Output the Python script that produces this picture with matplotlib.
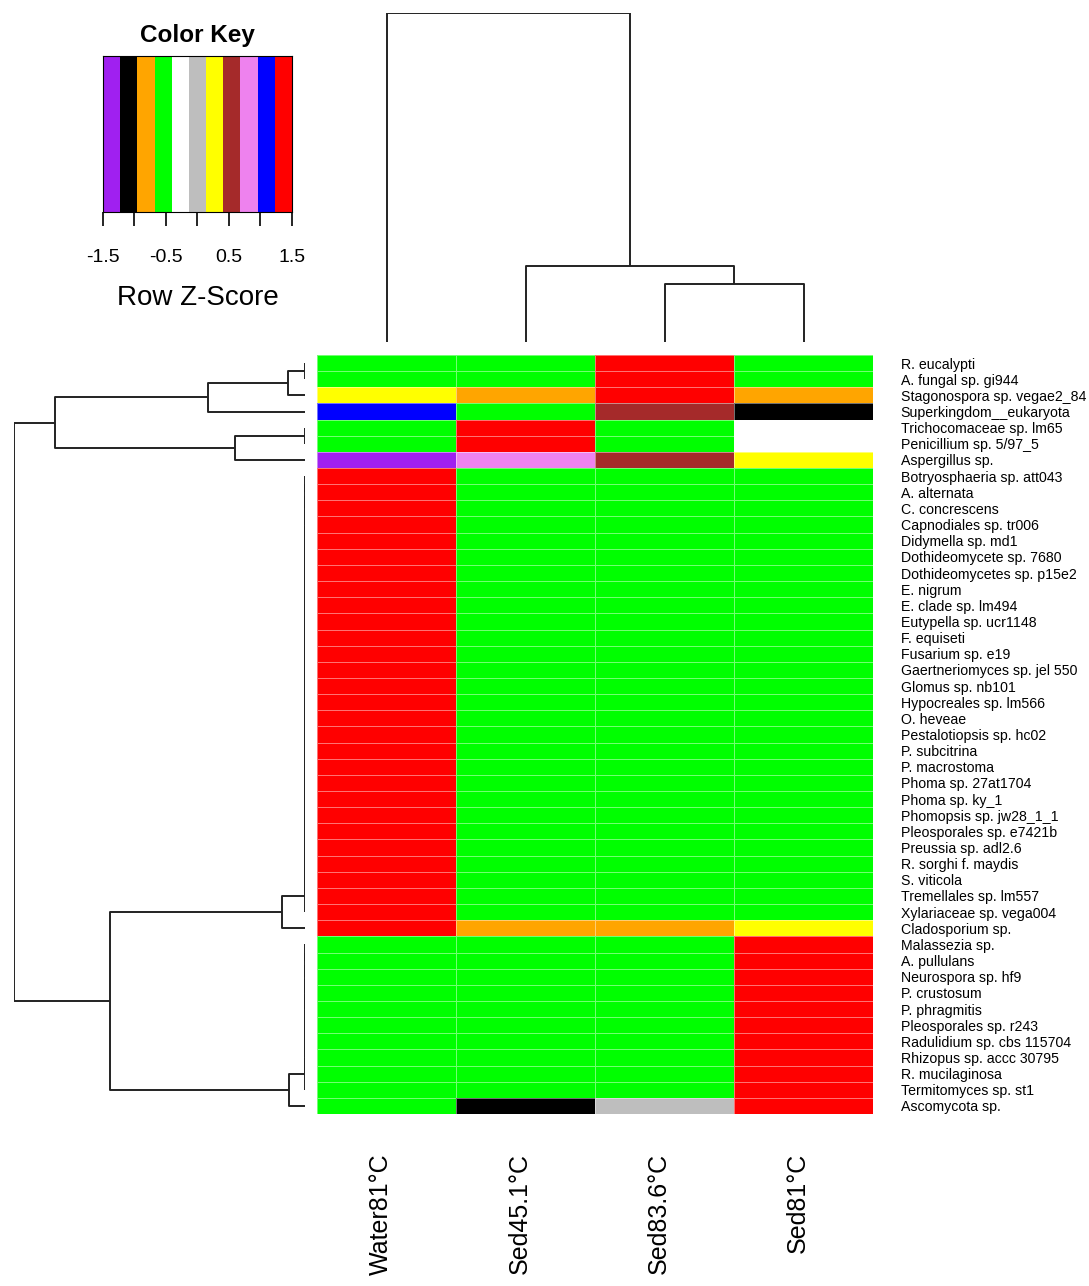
# Heatmap of fungal taxa (row Z-scores) with row / column dendrograms

import matplotlib
matplotlib.use("Agg")
import matplotlib.pyplot as plt
import numpy as np
from matplotlib.colors import ListedColormap, BoundaryNorm


# =========================
# 1. Data
# =========================

sample_labels = ["Water81°C", "Sed45.1°C", "Sed83.6°C", "Sed81°C"]

taxa = [
    "R. eucalypti", "A. fungal sp. gi944", "Stagonospora sp. vegae2_84",
    "Superkingdom__eukaryota", "Trichocomaceae sp. lm65", "Penicillium sp. 5/97_5",
    "Aspergillus sp.", "Botryosphaeria sp. att043", "A. alternata", "C. concrescens",
    "Capnodiales sp. tr006", "Didymella sp. md1", "Dothideomycete sp. 7680",
    "Dothideomycetes sp. p15e2", "E. nigrum", "E. clade sp. lm494",
    "Eutypella sp. ucr1148", "F. equiseti", "Fusarium sp. e19",
    "Gaertneriomyces sp. jel 550", "Glomus sp. nb101", "Hypocreales sp. lm566",
    "O. heveae", "Pestalotiopsis sp. hc02", "P. subcitrina", "P. macrostoma",
    "Phoma sp. 27at1704", "Phoma sp. ky_1", "Phomopsis sp. jw28_1_1",
    "Pleosporales sp. e7421b", "Preussia sp. adl2.6", "R. sorghi f. maydis",
    "S. viticola", "Tremellales sp. lm557", "Xylariaceae sp. vega004",
    "Cladosporium sp.", "Malassezia sp.", "A. pullulans", "Neurospora sp. hf9",
    "P. crustosum", "P. phragmitis", "Pleosporales sp. r243",
    "Radulidium sp. cbs 115704", "Rhizopus sp. accc 30795", "R. mucilaginosa",
    "Termitomyces sp. st1", "Ascomycota sp.",
]

# row z-scores, one list per sample (top to bottom as displayed)
water81 = [
    -0.5, -0.5, 0.29, 1.10, -0.60, -0.60, -1.45,
    1.5, 1.5, 1.5, 1.5, 1.5, 1.5, 1.5, 1.5, 1.5, 1.5, 1.5, 1.5, 1.5, 1.5,
    1.5, 1.5, 1.5, 1.5, 1.5, 1.5, 1.5, 1.5, 1.5, 1.5, 1.5, 1.5, 1.5, 1.5,
    1.40,
    -0.5, -0.5, -0.5, -0.5, -0.5, -0.5, -0.5, -0.5, -0.5, -0.5,
    -0.5,
]
sed45 = [
    -0.5, -0.5, -0.83, -0.55, 1.45, 1.45, 0.75,
    -0.5, -0.5, -0.5, -0.5, -0.5, -0.5, -0.5, -0.5, -0.5, -0.5, -0.5, -0.5, -0.5, -0.5,
    -0.5, -0.5, -0.5, -0.5, -0.5, -0.5, -0.5, -0.5, -0.5, -0.5, -0.5, -0.5, -0.5, -0.5,
    -0.80,
    -0.5, -0.5, -0.5, -0.5, -0.5, -0.5, -0.5, -0.5, -0.5, -0.5,
    -1.0,
]
sed83 = [
    1.5, 1.5, 1.37, 0.55, -0.60, -0.60, 0.50,
    -0.5, -0.5, -0.5, -0.5, -0.5, -0.5, -0.5, -0.5, -0.5, -0.5, -0.5, -0.5, -0.5, -0.5,
    -0.5, -0.5, -0.5, -0.5, -0.5, -0.5, -0.5, -0.5, -0.5, -0.5, -0.5, -0.5, -0.5, -0.5,
    -0.80,
    -0.5, -0.5, -0.5, -0.5, -0.5, -0.5, -0.5, -0.5, -0.5, -0.5,
    0.0,
]
sed81 = [
    -0.5, -0.5, -0.83, -1.10, -0.25, -0.25, 0.20,
    -0.5, -0.5, -0.5, -0.5, -0.5, -0.5, -0.5, -0.5, -0.5, -0.5, -0.5, -0.5, -0.5, -0.5,
    -0.5, -0.5, -0.5, -0.5, -0.5, -0.5, -0.5, -0.5, -0.5, -0.5, -0.5, -0.5, -0.5, -0.5,
    0.20,
    1.5, 1.5, 1.5, 1.5, 1.5, 1.5, 1.5, 1.5, 1.5, 1.5,
    1.5,
]

key_colors = ["#A020F0", "#000000", "#FFA500", "#00FF00", "#FFFFFF", "#BEBEBE",
              "#FFFF00", "#A52A2A", "#EE82EE", "#0000FF", "#FF0000"]
key_ticks = [-1.5, -1.0, -0.5, 0.0, 0.5, 1.0, 1.5]
key_ticklabels = ["-1.5", "", "-0.5", "", "0.5", "", "1.5"]

# dendrogram merges: (left, right, height)
col_tree = (0, (1, (2, 3, 1.76), 2.31), 10.0)


def chain(first, last):
    # identical rows join one after another at height 0
    node = first
    for leaf in range(first + 1, last + 1):
        node = (node, leaf, 0.0)
    return node


row_tree = (
    ((((0, 1, 0.0), 2, 0.58), 3, 3.33), ((4, 5, 0.0), 6, 2.41), 8.59),
    ((chain(7, 34), 35, 0.79), (chain(36, 45), 46, 0.55), 6.70),
    10.0,
)


# =========================
# 2. Helpers
# =========================

def draw_tree(ax, node, vertical):
    """
    Draw a dendrogram node recursively, return (position, height).
    """

    if isinstance(node, int):
        return node + 0.5, 0.0

    left, right, h = node
    p1, h1 = draw_tree(ax, left, vertical)
    p2, h2 = draw_tree(ax, right, vertical)

    xs = [p1, p1, p2, p2]
    ys = [h1, h, h, h2]
    if vertical:
        ax.plot(xs, ys, color="#222222", lw=1.4, solid_capstyle="butt")
    else:
        ax.plot(ys, xs, color="#222222", lw=1.4, solid_capstyle="butt")

    return (p1 + p2) / 2, h


# =========================
# 3. Plot
# =========================

plt.rcParams["font.family"] = ["Liberation Sans", "DejaVu Sans"]

fig = plt.figure(figsize=(10.89, 12.86), dpi=100)

W, H = 1089, 1286


def box(x0, y0, x1, y1):
    return [x0 / W, 1 - y1 / H, (x1 - x0) / W, (y1 - y0) / H]


cmap = ListedColormap(key_colors)
breaks = np.linspace(-1.5, 1.5, len(key_colors) + 1)
norm = BoundaryNorm(breaks, cmap.N)

# heatmap
ax_hm = fig.add_axes(box(317, 355, 873, 1114))
z = np.array([water81, sed45, sed83, sed81]).T
ax_hm.pcolormesh(np.arange(len(sample_labels) + 1), np.arange(len(taxa) + 1), z,
                 cmap=cmap, norm=norm, edgecolors=(1, 1, 1, 0.45), linewidth=0.6)
ax_hm.set_xlim(0, len(sample_labels))
ax_hm.set_ylim(len(taxa), 0)
for s in ax_hm.spines.values():
    s.set_visible(False)
ax_hm.set_xticks(np.arange(len(sample_labels)) + 0.46)
ax_hm.set_xticklabels(sample_labels, rotation=90, fontsize=18,
                      ha="center", va="top")
ax_hm.tick_params(axis="x", length=0, pad=28)
ax_hm.yaxis.tick_right()
ax_hm.set_yticks(np.arange(len(taxa)) + 0.5)
ax_hm.set_yticklabels(taxa, fontsize=10.2)
ax_hm.tick_params(axis="y", length=0, pad=20)

# column dendrogram
ax_cd = fig.add_axes(box(317, 13, 873, 342))
draw_tree(ax_cd, col_tree, vertical=True)
ax_cd.set_xlim(0, len(sample_labels))
ax_cd.set_ylim(0, 10.0)
ax_cd.axis("off")

# row dendrogram
ax_rd = fig.add_axes(box(14, 355, 305, 1114))
draw_tree(ax_rd, row_tree, vertical=False)
ax_rd.set_ylim(len(taxa), 0)
ax_rd.set_xlim(10.0, 0)
ax_rd.axis("off")

# color key
ax_key = fig.add_axes(box(103, 56, 292, 212))
ax_key.pcolormesh(breaks, [0, 1], np.array([breaks[:-1] + 0.01]),
                  cmap=cmap, norm=norm)
ax_key.set_xlim(-1.5, 1.5)
ax_key.set_ylim(0, 1)
ax_key.set_yticks([])
ax_key.set_xticks(key_ticks)
ax_key.set_xticklabels(key_ticklabels, fontsize=14)
ax_key.tick_params(axis="x", length=10, width=1.2, pad=17)
for s in ax_key.spines.values():
    s.set_linewidth(0.8)
ax_key.set_title("Color Key", fontsize=17.5, fontweight="bold", pad=10)
ax_key.set_xlabel("Row Z-Score", fontsize=20, labelpad=13)

plt.savefig("out.png", dpi=100, facecolor="white")
